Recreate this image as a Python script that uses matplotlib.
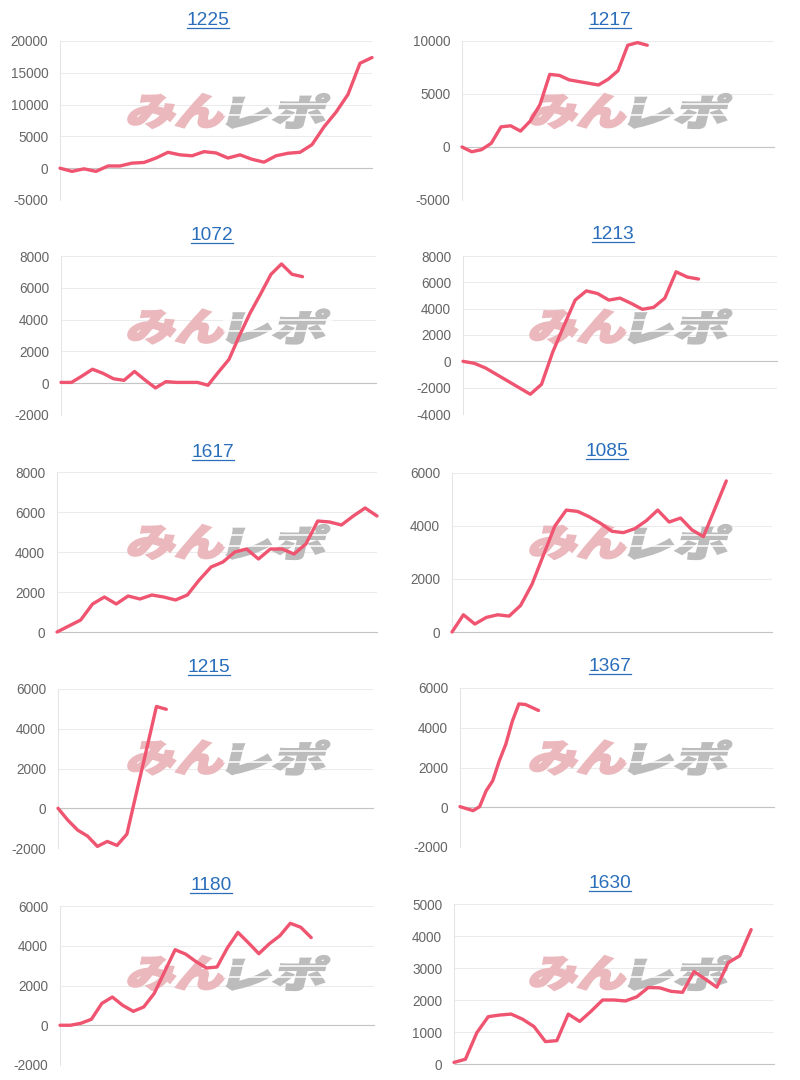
import numpy as np
import matplotlib.pyplot as plt
from matplotlib.textpath import TextPath
from matplotlib.patches import PathPatch
from matplotlib.font_manager import FontProperties
from matplotlib.transforms import Affine2D, IdentityTransform
from matplotlib.lines import Line2D

plt.rcParams['font.family'] = ['Liberation Sans', 'DejaVu Sans']
plt.rcParams['axes.unicode_minus'] = False

# machine numbers shown as titles
titles = ['1225', '1217', '1072', '1213', '1617', '1085', '1215', '1367', '1180', '1630']

# cumulative values per machine
v1225 = [0, -500, -100, -500, 350, 350, 800, 900, 1600, 2500, 2100, 1950, 2600, 2400,
         1600, 2100, 1400, 950, 1950, 2350, 2500, 3700, 6500, 8800, 11600, 16500, 17400]
v1217 = [0, -450, -250, 350, 1900, 2000, 1500, 2450, 4000, 6850, 6750, 6330, 6170, 6010,
         5850, 6400, 7200, 9600, 9850, 9600]
v1072 = [50, 50, 450, 880, 620, 280, 180, 740, 200, -300, 100, 50, 50, 50, -130, 700,
         1500, 3000, 4400, 5600, 6850, 7500, 6850, 6700]
v1213 = [0, -150, -500, -1000, -1500, -2000, -2500, -1750, 700, 2700, 4650, 5350, 5150,
         4650, 4800, 4400, 3950, 4100, 4800, 6800, 6400, 6250]
v1617 = [0, 300, 600, 1400, 1750, 1400, 1800, 1650, 1850, 1750, 1600, 1850, 2600, 3250,
         3500, 4000, 4150, 3650, 4150, 4150, 3900, 4400, 5550, 5500, 5350, 5800, 6200, 5800]
v1085 = [0, 650, 300, 550, 650, 600, 1000, 1800, 2900, 4000, 4600, 4550, 4350, 4100,
         3800, 3750, 3900, 4200, 4600, 4150, 4300, 3850, 3600, 4650, 5700]
v1215 = [0, -600, -1100, -1400, -1920, -1670, -1870, -1300, 850, 2970, 5120, 4980]
v1367 = [30, -70, -170, 30, 830, 1330, 2330, 3170, 4330, 5200, 5170, 5020, 4870]
v1180 = [0, 0, 100, 300, 1100, 1420, 1000, 700, 920, 1600, 2700, 3800, 3580, 3200,
         2880, 2930, 3900, 4670, 4150, 3600, 4100, 4500, 5130, 4930, 4410]
v1630 = [50, 150, 980, 1480, 1530, 1560, 1400, 1170, 700, 730, 1560, 1330, 1650, 2000,
         2000, 1970, 2100, 2390, 2380, 2270, 2240, 2890, 2650, 2400, 3170, 3380, 4200]
series = [v1225, v1217, v1072, v1213, v1617, v1085, v1215, v1367, v1180, v1630]

# number of x labels (days) on each chart
n_labels = [27, 33, 31, 29, 28, 29, 33, 49, 31, 29]

# y axis range and step
y_min = [-5000, -5000, -2000, -4000, 0, 0, -2000, -2000, -2000, 0]
y_max = [20000, 10000, 8000, 8000, 8000, 6000, 6000, 6000, 6000, 5000]
y_step = [5000, 5000, 2000, 2000, 2000, 2000, 2000, 2000, 2000, 1000]

W, H = 800, 1080
# plot boxes in pixels: left, right, top, bottom
boxes = [(60, 372, 41, 200), (462, 774, 41, 200),
         (61, 376, 256, 415), (463, 777, 256, 414),
         (57, 377, 472, 632), (452, 772, 473, 632),
         (58, 373, 689, 848), (460, 774, 688, 847),
         (60, 374, 906, 1065), (454, 774, 904, 1064)]
title_x = [208, 610, 212, 613, 213, 607, 209, 610, 211, 610]
title_base = [25, 25, 240, 239, 457, 456, 672, 671, 890, 888]

line_col = '#ef5470'
link_col = '#2a6ebb'

fig = plt.figure(figsize=(W / 100, H / 100), dpi=100)
fig.patch.set_facecolor('white')

fp = FontProperties(family='Noto Sans CJK JP', weight='black')


def logo(ax, text, color, x0, y0, w, h, stripes=False):
    # watermark piece, placed in pixel coords (y from top)
    tp = TextPath((0, 0), text, size=1, prop=fp)
    bb = tp.get_extents()
    tr = (Affine2D().translate(-bb.x0, -bb.y0)
          .scale(w / bb.width, h / bb.height)
          .skew_deg(14, 0)
          .translate(x0 - 4, H - y0 - h))
    p = PathPatch(tr.transform_path(tp), facecolor=color, edgecolor=color, lw=1.6,
                  transform=IdentityTransform(), zorder=1.6)
    ax.add_artist(p)
    if stripes:
        for f in (0.3, 0.62):
            yy = H - y0 - h * f
            ax.add_artist(Line2D([x0 - 6, x0 + w + 6], [yy, yy], color='white', lw=1.1,
                                 transform=IdentityTransform(), zorder=1.65))


for i in range(10):
    L, R, T, B = boxes[i]
    ax = fig.add_axes([L / W, 1 - B / H, (R - L) / W, (B - T) / H])
    ax.set_facecolor('none')
    v = series[i]
    ax.plot(np.arange(len(v)), v, color=line_col, lw=2.4,
            solid_joinstyle='round', solid_capstyle='round', zorder=3, clip_on=False)
    ax.set_xlim(0, n_labels[i] - 1)
    ax.set_ylim(y_min[i], y_max[i])
    ax.set_yticks(np.arange(y_min[i], y_max[i] + 1, y_step[i]))
    ax.set_xticks([])
    ax.grid(axis='y', color='#ebebeb', lw=0.75)
    ax.axhline(0, color='#c4c4c4', lw=0.8, zorder=1.55, clip_on=False)
    for s in ['top', 'right', 'bottom']:
        ax.spines[s].set_visible(False)
    ax.spines['left'].set_color('#e4e4e4')
    ax.spines['left'].set_linewidth(0.75)
    ax.tick_params(axis='y', length=0, pad=8.5, labelsize=9.8, labelcolor='#666666')

    # watermark "みんレポ"
    col = i % 2
    row = i // 2
    cx = 130 if col == 0 else 532
    cy = 94 + row * 215.5
    logo(ax, 'みん', '#ebb9bd', cx, cy, 95, 34)
    logo(ax, 'レポ', '#bcbcbc', cx + 100, cy, 96, 34, stripes=True)

    fig.text(title_x[i] / W, 1 - title_base[i] / H, titles[i], ha='center',
             va='baseline', fontsize=13.8, color=link_col)

fig.canvas.draw()
r = fig.canvas.get_renderer()
for t in list(fig.texts):
    bb = t.get_window_extent(r)
    yb = t.get_position()[1] * H - 2.5
    fig.add_artist(Line2D([bb.x0, bb.x1], [yb, yb], transform=IdentityTransform(),
                          color=link_col, lw=0.9))

fig.savefig('out.png', dpi=100)
